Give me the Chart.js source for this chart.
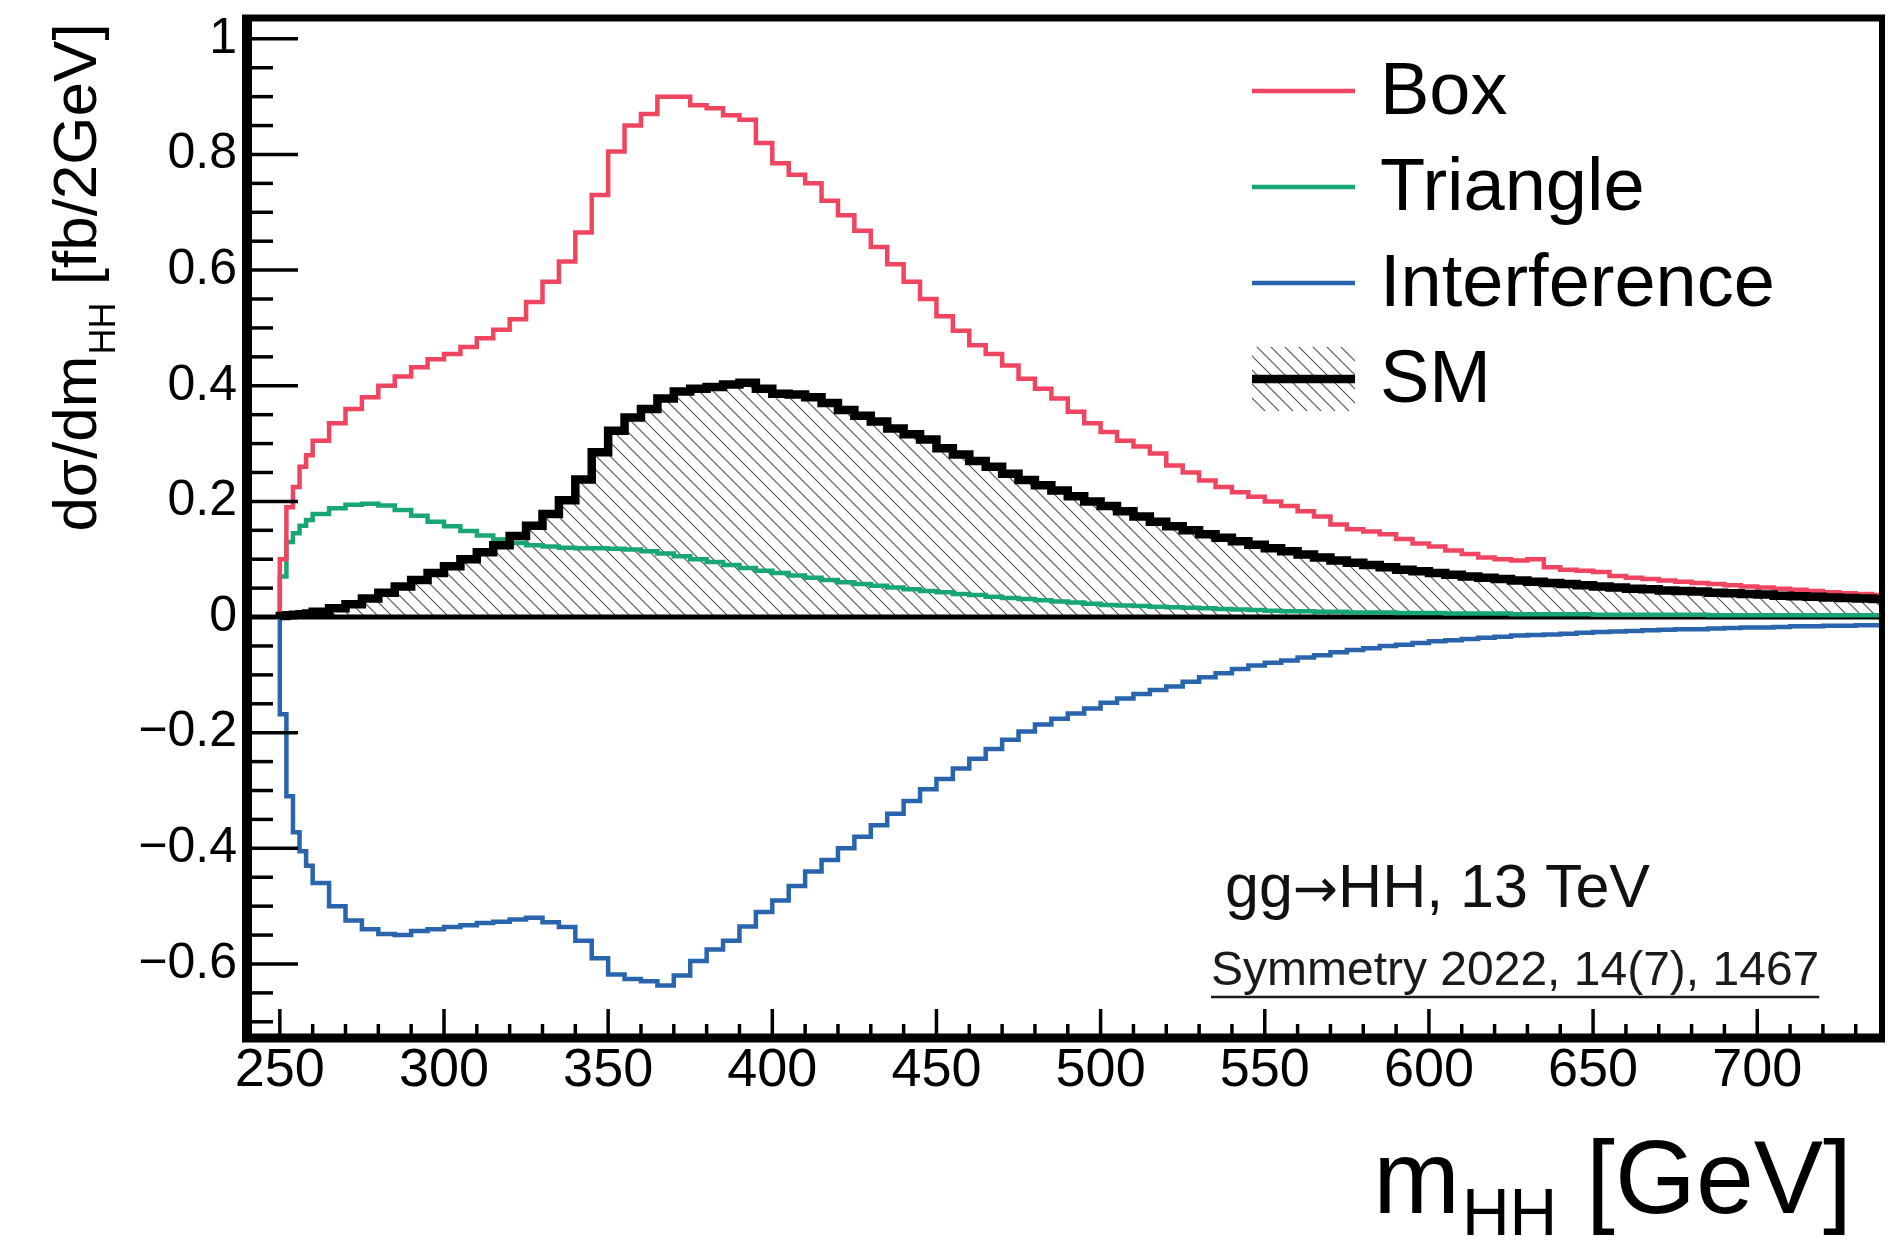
<!DOCTYPE html>
<html>
<head>
<meta charset="utf-8">
<script src="https://cdn.jsdelivr.net/npm/chart.js"></script>
<style>
  html, body { margin: 0; padding: 0; background: #fff; }
  #wrap { width: 1902px; height: 1241px; position: relative; }
</style>
</head>
<body>
<div id="wrap"><canvas id="mhhChart"></canvas></div>
<script>
// bin edges of m_HH in GeV (finer near threshold)
const massEdges = [
  250, 252, 254, 256, 258,
  260, 265, 270, 275, 280, 285, 290, 295, 300, 305,
  310, 315, 320, 325, 330, 335, 340, 345, 350, 355,
  360, 365, 370, 375, 380, 385, 390, 395, 400, 405,
  410, 415, 420, 425, 430, 435, 440, 445, 450, 455,
  460, 465, 470, 475, 480, 485, 490, 495, 500, 505,
  510, 515, 520, 525, 530, 535, 540, 545, 550, 555,
  560, 565, 570, 575, 580, 585, 590, 595, 600, 605,
  610, 615, 620, 625, 630, 635, 640, 645, 650, 655,
  660, 665, 670, 675, 680, 685, 690, 695, 700, 705,
  710, 715, 720, 725, 730, 735, 740
];

// dsigma/dm_HH per bin [fb/2GeV]
const boxValues = [
  0.10, 0.19, 0.225, 0.26, 0.28,
  0.305, 0.335, 0.36, 0.38, 0.40, 0.416, 0.432, 0.446, 0.455, 0.467,
  0.482, 0.497, 0.515, 0.545, 0.58, 0.615, 0.665, 0.73, 0.805, 0.85,
  0.87, 0.9, 0.9, 0.885, 0.88, 0.868, 0.86, 0.82, 0.785, 0.765,
  0.75, 0.72, 0.695, 0.668, 0.64, 0.61, 0.58, 0.55, 0.52, 0.495,
  0.47, 0.455, 0.435, 0.412, 0.395, 0.378, 0.355, 0.335, 0.32, 0.305,
  0.295, 0.283, 0.262, 0.25, 0.236, 0.225, 0.216, 0.208, 0.2, 0.192,
  0.183, 0.174, 0.16, 0.152, 0.148, 0.143, 0.135, 0.127, 0.122, 0.115,
  0.109, 0.103, 0.1, 0.098, 0.1, 0.086, 0.082, 0.08, 0.078, 0.071,
  0.068, 0.066, 0.063, 0.061, 0.059, 0.057, 0.055, 0.053, 0.051, 0.049,
  0.047, 0.045, 0.043, 0.041, 0.04, 0.038
];
const triangleValues = [
  0.07, 0.13, 0.145, 0.158, 0.168,
  0.178, 0.188, 0.194, 0.196, 0.193, 0.185, 0.175, 0.165, 0.157, 0.149,
  0.141, 0.134, 0.128, 0.124, 0.122, 0.12, 0.119, 0.119, 0.118, 0.117,
  0.114, 0.11, 0.105, 0.1, 0.095, 0.09, 0.085, 0.08, 0.076, 0.072,
  0.068, 0.064, 0.06, 0.057, 0.054, 0.051, 0.048, 0.045, 0.043, 0.04,
  0.038, 0.035, 0.033, 0.031, 0.029, 0.027, 0.025, 0.023, 0.021, 0.02,
  0.019, 0.018, 0.017, 0.016, 0.015, 0.014, 0.013, 0.012, 0.011, 0.01,
  0.01, 0.009, 0.009, 0.008, 0.008, 0.008, 0.007, 0.007, 0.007, 0.006,
  0.006, 0.006, 0.006, 0.005, 0.005, 0.005, 0.005, 0.005, 0.004, 0.004,
  0.004, 0.004, 0.004, 0.004, 0.004, 0.003, 0.003, 0.003, 0.003, 0.003,
  0.003, 0.003, 0.003, 0.003, 0.003, 0.003
];
const interferenceValues = [
  -0.168, -0.31, -0.372, -0.405, -0.43,
  -0.46, -0.5, -0.525, -0.54, -0.548, -0.55, -0.543, -0.54, -0.536, -0.533,
  -0.529, -0.527, -0.523, -0.52, -0.528, -0.536, -0.56, -0.59, -0.618, -0.626,
  -0.63, -0.637, -0.62, -0.595, -0.575, -0.56, -0.535, -0.51, -0.49, -0.465,
  -0.44, -0.42, -0.4, -0.38, -0.36, -0.34, -0.318, -0.298, -0.28, -0.262,
  -0.245, -0.228, -0.212, -0.198, -0.186, -0.176, -0.167, -0.158, -0.148, -0.141,
  -0.133, -0.126, -0.12, -0.112, -0.104, -0.097, -0.09, -0.084, -0.079, -0.075,
  -0.07, -0.066, -0.061, -0.057, -0.054, -0.05, -0.048, -0.045, -0.042, -0.04,
  -0.038, -0.036, -0.034, -0.032, -0.031, -0.03, -0.029, -0.027, -0.026, -0.025,
  -0.024, -0.023, -0.022, -0.021, -0.021, -0.02, -0.019, -0.018, -0.018, -0.017,
  -0.016, -0.016, -0.015, -0.015, -0.014, -0.014
];
const smValues = [
  0.002, 0.003, 0.004, 0.005, 0.006,
  0.009, 0.015, 0.022, 0.032, 0.042, 0.053, 0.064, 0.076, 0.088, 0.1,
  0.112, 0.124, 0.14, 0.158, 0.178, 0.202, 0.238, 0.285, 0.322, 0.345,
  0.36, 0.378, 0.39, 0.395, 0.398, 0.402, 0.405, 0.395, 0.386, 0.385,
  0.38, 0.37, 0.358, 0.348, 0.338, 0.326, 0.316, 0.307, 0.292, 0.281,
  0.27, 0.26, 0.248, 0.237, 0.228, 0.219, 0.209, 0.2, 0.192, 0.183,
  0.174, 0.165, 0.157, 0.15, 0.143, 0.137, 0.131, 0.125, 0.119, 0.114,
  0.108, 0.103, 0.098, 0.094, 0.09, 0.086, 0.082, 0.079, 0.076, 0.073,
  0.07, 0.068, 0.066, 0.063, 0.061, 0.059, 0.057, 0.055, 0.053, 0.051,
  0.049, 0.048, 0.046, 0.045, 0.044, 0.042, 0.041, 0.04, 0.039, 0.037,
  0.036, 0.035, 0.034, 0.033, 0.032, 0.031
];

const xTickValues = [250, 300, 350, 400, 450, 500, 550, 600, 650, 700];
const xMinorTicks = [260, 270, 280, 290, 310, 320, 330, 340, 360, 370, 380, 390,
  410, 420, 430, 440, 460, 470, 480, 490, 510, 520, 530, 540, 560, 570, 580, 590,
  610, 620, 630, 640, 660, 670, 680, 690, 710, 720, 730];
const yTickValues = [-0.6, -0.4, -0.2, 0, 0.2, 0.4, 0.6, 0.8, 1];
const yMinorTicks = [-0.7, -0.65, -0.55, -0.5, -0.45, -0.35, -0.3, -0.25, -0.15, -0.1, -0.05,
  0.05, 0.1, 0.15, 0.25, 0.3, 0.35, 0.45, 0.5, 0.55, 0.65, 0.7, 0.75, 0.85, 0.9, 0.95];

const FONT = "'Liberation Sans', Arial, Helvetica, sans-serif";

// histogram outline: start at zero on the first edge, one point per bin
function histPoints(values) {
  const pts = [{ x: massEdges[0], y: 0 }];
  values.forEach((v, i) => pts.push({ x: massEdges[i], y: v }));
  pts.push({ x: massEdges[massEdges.length - 1], y: values[values.length - 1] });
  return pts;
}

// "\\\\" hatch like ROOT fill style 3004
function makeHatch() {
  const s = 14;
  const c = document.createElement('canvas');
  c.width = s; c.height = s;
  const g = c.getContext('2d');
  g.strokeStyle = '#505050';
  g.lineWidth = 1.1;
  g.beginPath();
  g.moveTo(-2, -2); g.lineTo(s + 2, s + 2);
  g.moveTo(-2, s - 2); g.lineTo(2, s + 2);
  g.moveTo(s - 2, -2); g.lineTo(s + 2, 2);
  g.stroke();
  return g.createPattern(c, 'repeat');
}
const hatch = makeHatch();

function line(ctx, x1, y1, x2, y2) {
  ctx.beginPath(); ctx.moveTo(x1, y1); ctx.lineTo(x2, y2); ctx.stroke();
}

const rootStyle = {
  id: 'rootStyle',
  beforeDatasetsDraw(chart) {
    const { ctx, chartArea: a, scales: { y } } = chart;
    const y0 = y.getPixelForValue(0);
    ctx.save();
    ctx.strokeStyle = '#000';
    ctx.lineWidth = 5;
    line(ctx, a.left, y0, a.right, y0);
    ctx.restore();
  },
  afterDatasetsDraw(chart) {
    const { ctx, chartArea: a, scales: { x, y } } = chart;
    ctx.save();
    ctx.strokeStyle = '#000';
    ctx.lineCap = 'butt';

    // ticks point inwards
    ctx.lineWidth = 3.5;
    yTickValues.forEach(v => { const p = y.getPixelForValue(v); line(ctx, a.left, p, a.left + 51, p); });
    yMinorTicks.forEach(v => { const p = y.getPixelForValue(v); line(ctx, a.left, p, a.left + 26, p); });
    xTickValues.forEach(v => { const p = x.getPixelForValue(v); line(ctx, p, a.bottom, p, a.bottom - 29); });
    xMinorTicks.forEach(v => { const p = x.getPixelForValue(v); line(ctx, p, a.bottom, p, a.bottom - 14); });

    // frame
    ctx.lineWidth = 7; line(ctx, a.left - 5, a.top, a.right + 3, a.top);
    ctx.lineWidth = 6; line(ctx, a.right, a.top - 3, a.right, a.bottom + 4);
    ctx.lineWidth = 9; line(ctx, a.left - 5, a.bottom, a.right + 3, a.bottom);
    ctx.lineWidth = 10; line(ctx, a.left, a.top - 3, a.left, a.bottom + 4);

    // legend
    ctx.textBaseline = 'alphabetic';
    ctx.textAlign = 'left';
    ctx.font = '74px ' + FONT;
    chart.data.datasets.forEach((ds, i) => {
      const ly = 91 + 96 * i;
      if (ds.fill) {
        ctx.fillStyle = ds.backgroundColor;
        ctx.fillRect(1252, ly - 32, 103, 64);
      }
      ctx.strokeStyle = ds.borderColor;
      ctx.lineWidth = ds.borderWidth;
      line(ctx, 1252, ly, 1355, ly);
      ctx.fillStyle = '#000';
      ctx.fillText(ds.label, 1380, ly + 23);
    });

    // process label: arrow taken from DejaVu, which has a full-size glyph
    ctx.fillStyle = '#111';
    let px = 1225;
    ctx.font = '61px ' + FONT; ctx.fillText('gg', px, 907); px += ctx.measureText('gg').width;
    ctx.font = '54px "DejaVu Sans", ' + FONT; ctx.fillText('\u2192', px, 907); px += ctx.measureText('\u2192').width;
    ctx.font = '61px ' + FONT; ctx.fillText('HH, 13 TeV', px, 907);

    // reference, underlined
    ctx.fillStyle = '#1a1a1a';
    ctx.font = '48px ' + FONT;
    const ref = 'Symmetry 2022, 14(7), 1467';
    ctx.fillText(ref, 1211, 985);
    const w = ctx.measureText(ref).width;
    ctx.strokeStyle = '#1a1a1a';
    ctx.lineWidth = 2.5;
    line(ctx, 1211, 997, 1211 + w, 997);

    // x title: m_HH [GeV], right aligned
    ctx.fillStyle = '#000';
    const mainX = '104px ' + FONT, subX = '66px ' + FONT;
    ctx.font = mainX; const wm = ctx.measureText('m').width; const wr = ctx.measureText(' [GeV]').width;
    ctx.font = subX; const ws = ctx.measureText('HH').width;
    const tx = 1850 - (wm + ws + wr);
    ctx.font = mainX; ctx.fillText('m', tx, 1213);
    ctx.font = subX; ctx.fillText('HH', tx + wm + 2, 1235);
    ctx.font = mainX; ctx.fillText(' [GeV]', tx + wm + ws + 2, 1213);

    // y title, rotated
    ctx.save();
    ctx.translate(96, 278);
    ctx.rotate(-Math.PI / 2);
    const mainY = '62px ' + FONT, subY = '36px ' + FONT;
    ctx.font = mainY; const w1 = ctx.measureText('d\u03c3/dm').width; const w3 = ctx.measureText(' [fb/2GeV]').width;
    ctx.font = subY; const w2 = ctx.measureText('HH').width;
    const sx = -(w1 + w2 + w3) / 2;
    ctx.font = mainY; ctx.fillText('d\u03c3/dm', sx, 0);
    ctx.font = subY; ctx.fillText('HH', sx + w1 + 1, 19);
    ctx.font = mainY; ctx.fillText(' [fb/2GeV]', sx + w1 + w2 + 1, 0);
    ctx.restore();

    ctx.restore();
  }
};

function tickLabel(v) {
  if (v === 0) return '0';
  return (v < 0 ? '\u2212' : '') + String(Math.abs(v));
}

new Chart(document.getElementById('mhhChart'), {
  type: 'line',
  data: {
    datasets: [
      { label: 'Box', data: histPoints(boxValues), borderColor: '#ef4560', borderWidth: 4.5, order: 2 },
      { label: 'Triangle', data: histPoints(triangleValues), borderColor: '#18a673', borderWidth: 4.5, order: 3 },
      { label: 'Interference', data: histPoints(interferenceValues), borderColor: '#2964ad', borderWidth: 4.5, order: 4 },
      { label: 'SM', data: histPoints(smValues), borderColor: '#000', borderWidth: 8.5, fill: 'origin',
        backgroundColor: hatch, order: 1 }
    ]
  },
  options: {
    responsive: true,
    maintainAspectRatio: false,
    animation: false,
    devicePixelRatio: 1,
    layout: { padding: { top: 18, right: 20, left: 0, bottom: 0 } },
    elements: {
      line: { stepped: 'before', tension: 0, borderJoinStyle: 'miter', borderCapStyle: 'butt' },
      point: { radius: 0, hoverRadius: 0 }
    },
    plugins: {
      legend: { display: false },
      tooltip: { enabled: false },
      filler: { drawTime: 'beforeDatasetsDraw' }
    },
    scales: {
      x: {
        type: 'linear',
        min: 240,
        max: 738,
        grid: { display: false, drawTicks: false },
        border: { display: false },
        afterFit: s => { s.height = 203; s.paddingLeft = 0; s.paddingRight = 0; },
        afterBuildTicks: s => { s.ticks = xTickValues.map(v => ({ value: v })); },
        ticks: {
          autoSkip: false,
          maxRotation: 0,
          padding: 1,
          color: '#000',
          font: { family: FONT, size: 54 },
          callback: v => String(v)
        }
      },
      y: {
        type: 'linear',
        min: -0.728,
        max: 1.036,
        grid: { display: false, drawTicks: false },
        border: { display: false },
        afterFit: s => { s.width = 247; s.paddingTop = 0; s.paddingBottom = 0; },
        afterBuildTicks: s => { s.ticks = yTickValues.map(v => ({ value: v })); },
        ticks: {
          autoSkip: false,
          padding: 10,
          color: '#000',
          font: { family: FONT, size: 50 },
          callback: v => tickLabel(v)
        }
      }
    }
  },
  plugins: [rootStyle]
});
</script>
</body>
</html>
